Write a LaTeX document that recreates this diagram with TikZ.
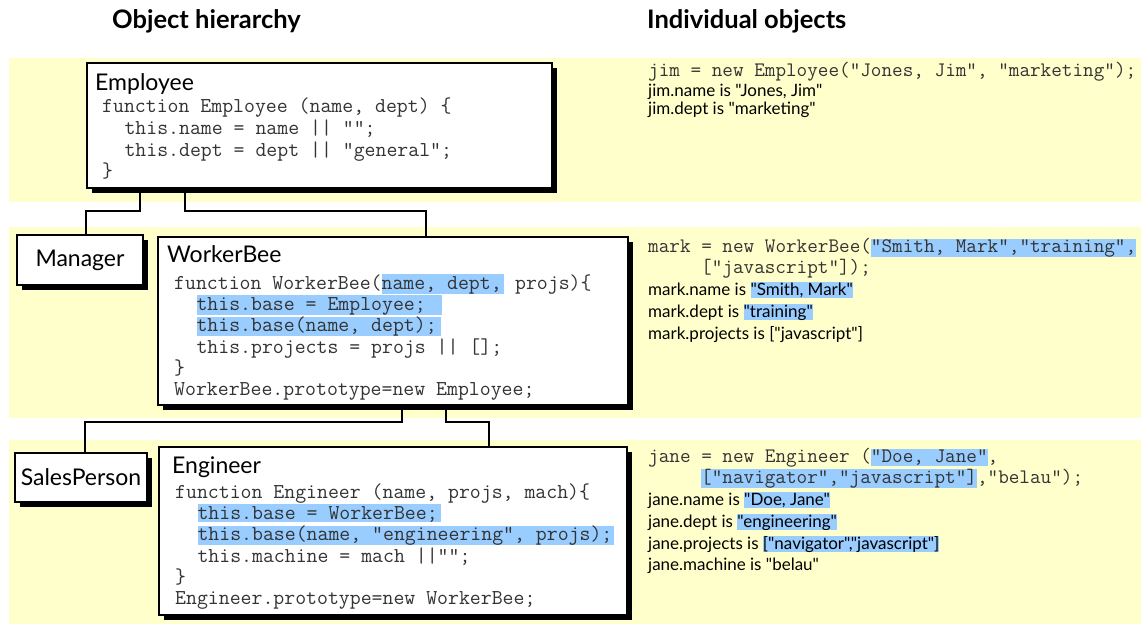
\documentclass[tikz,border=0pt]{standalone}
\usepackage{fontspec}
\setmainfont{Lato}
\newfontfamily\plainsans{Lato}
\usetikzlibrary{shadows}
\definecolor{bandyellow}{HTML}{FFFFCC}
\definecolor{hlblue}{HTML}{99CCFF}
\definecolor{codegray}{HTML}{333333}
\newcommand\hlc[1]{{\setlength{\fboxsep}{0pt}\colorbox{hlblue}{\rule[-3pt]{0pt}{18pt}#1}}}
\newcommand\hlr[1]{{\setlength{\fboxsep}{0pt}\colorbox{hlblue}{\rule[-4pt]{0pt}{17pt}#1}}}
\newcommand\hls[1]{{\setlength{\fboxsep}{0pt}\colorbox{hlblue}{\rule[-3pt]{0pt}{16pt}#1}}}
\tikzset{
  bandbox/.style={fill=bandyellow, draw=none},
  classbox/.style={draw=black, line width=1.5pt, fill=white, inner sep=0pt,
    drop shadow={shadow xshift=5pt, shadow yshift=-5pt, fill=black, opacity=1},
    font=\fontsize{23}{26}\selectfont},
  conn/.style={draw=black, line width=1.2pt},
  codeL/.style={anchor=base west, inner sep=0pt, text=codegray, font=\ttfamily\fontsize{21.2}{24}\selectfont},
  codeR/.style={anchor=base west, inner sep=0pt, text=codegray, font=\ttfamily\fontsize{20.6}{24}\selectfont},
  txtR/.style={anchor=base west, inner sep=0pt, font=\plainsans\fontsize{17}{20}\selectfont},
  titletxt/.style={anchor=base west, inner sep=0pt, font=\fontsize{23}{26}\selectfont},
  hdr/.style={anchor=base west, inner sep=0pt, font=\bfseries\fontsize{25.5}{30}\selectfont},
}
\begin{document}
\begin{tikzpicture}[x=1pt,y=-1pt]
\useasboundingbox (0,0) rectangle (1141,626);
\fill[white] (0,0) rectangle (1141,626);
% bands
\path[bandbox] (9,58) rectangle (1141,202);
\path[bandbox] (9,227) rectangle (1141,418);
\path[bandbox] (9,440) rectangle (1141,624);
% headers
\node[hdr] (h1) at (112,29) {Object hierarchy};
\node[hdr] (h2) at (647,29) {Individual objects};
% box positions for connectors
\path (319.5,125.5) node[minimum width=465pt, minimum height=125pt, inner sep=0pt] (emp) {};
\path (80,260) node[minimum width=126pt, minimum height=50pt, inner sep=0pt] (mgr) {};
\path (393,321) node[minimum width=470pt, minimum height=168pt, inner sep=0pt] (wb) {};
\path (81,477.5) node[minimum width=132pt, minimum height=49pt, inner sep=0pt] (sp) {};
\path (393,531) node[minimum width=468pt, minimum height=168pt, inner sep=0pt] (eng) {};
% connectors
\draw[conn] (emp.south -| 140,0) -- (140,211) -| (mgr.north -| 86,0);
\draw[conn] (emp.south -| 185,0) -- (185,211) -| (wb.north -| 426,0);
\draw[conn] (wb.south -| 402,0) -- (402,422) -| (sp.north -| 85,0);
\draw[conn] (wb.south -| 446,0) -- (446,422) -| (eng.north -| 489,0);
% drawn boxes
\node[classbox, minimum width=465pt, minimum height=125pt] (empbox) at (emp) {};
\node[classbox, minimum width=126pt, minimum height=50pt] (mgrbox) at (mgr) {Manager};
\node[classbox, minimum width=470pt, minimum height=168pt] (wbbox) at (wb) {};
\node[classbox, minimum width=132pt, minimum height=49pt] (spbox) at (sp) {SalesPerson};
\node[classbox, minimum width=468pt, minimum height=168pt] (engbox) at (eng) {};
% Employee
\node[titletxt] (tEmp) at (95,90) {Employee};
\node[codeL] (e1) at (102,113) {function Employee (name, dept) \{};
\node[codeL] (e2) at (124.3,134.6) {this.name = name || "";};
\node[codeL] (e3) at (124.3,156.2) {this.dept = dept || "general";};
\node[codeL] (e4) at (102,177.8) {\}};
% WorkerBee
\node[titletxt] (tWB) at (167,262) {WorkerBee};
\node[codeL] (w1) at (174,289) {function WorkerBee(\hlc{name, dept,\hspace{2.5pt}} projs)\{};
\node[codeL] (w2) at (196.3,310.3) {\hlc{this.base = Employee;\hspace{16pt}}};
\node[codeL] (w3) at (196.3,331.6) {\hlc{this.base(name, dept);\hspace{4pt}}};
\node[codeL] (w4) at (196.3,353) {this.projects = projs || [];};
\node[codeL] (w5) at (174,374.2) {\}};
\node[codeL] (w6) at (174,395.5) {WorkerBee.prototype=new Employee;};
% Engineer
\node[titletxt] (tEng) at (172,473) {Engineer};
\node[codeL] (g1) at (175,498) {function Engineer (name, projs, mach)\{};
\node[codeL] (g2) at (197.3,519.3) {\hlc{this.base = WorkerBee;\hspace{3.5pt}}};
\node[codeL] (g3) at (197.3,540.6) {\hlc{this.base(name, "engineering", projs);\hspace{2pt}}};
\node[codeL] (g4) at (197.3,562) {this.machine = mach ||"";};
\node[codeL] (g5) at (175,583.2) {\}};
\node[codeL] (g6) at (175,604.5) {Engineer.prototype=new WorkerBee;};
% jim
\node[codeR] (jim0) at (648,77) {jim = new Employee("Jones, Jim", "marketing");};
\node[txtR] (jim1) at (648,96) {jim.name is "Jones, Jim"};
\node[txtR] (jim2) at (648,114) {jim.dept is "marketing"};
% mark
\node[codeR] (mk0) at (648,252) {mark = new WorkerBee(\hlr{"Smith, Mark","training",}};
\node[codeR] (mk1) at (701,273) {["javascript"]);};
\node[txtR] (mk2) at (648,295) {mark.name is \hls{"Smith, Mark"}};
\node[txtR] (mk3) at (648,317) {mark.dept is \hls{"training"}};
\node[txtR] (mk4) at (648,339) {mark.projects is ["javascript"]};
% jane
\node[codeR] (jn0) at (648,462) {jane = new Engineer (\hlr{"Doe, Jane"},};
\node[codeR] (jn1) at (701,483) {\hlr{["navigator","javascript"]},"belau");};
\node[txtR] (jn2) at (648,505) {jane.name is \hls{"Doe, Jane"}};
\node[txtR] (jn3) at (648,527) {jane.dept is \hls{"engineering"}};
\node[txtR] (jn4) at (648,549) {jane.projects is \hls{["navigator","javascript"]}};
\node[txtR] (jn5) at (648,570) {jane.machine is "belau"};
\end{tikzpicture}
\end{document}
